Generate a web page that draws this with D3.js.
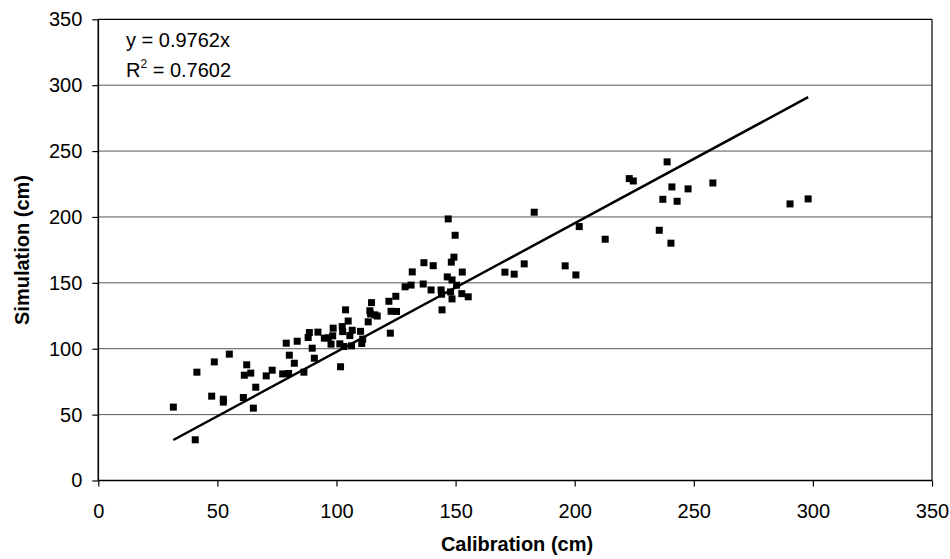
<!DOCTYPE html>
<html>
<head>
<meta charset="utf-8">
<script src="https://cdn.jsdelivr.net/npm/d3@7"></script>
<style>
  html, body { margin: 0; padding: 0; background: #ffffff; }
  svg { display: block; }
  text { font-family: "Liberation Sans", Arial, sans-serif; fill: #000; }
</style>
</head>
<body>
<svg id="chart" width="950" height="559"></svg>
<script>
// ---- Data ----
const calibration = [31.5,40.7,41.4,47.6,48.7,52.5,52.5,55.0,60.9,61.3,62.3,64.0,65.1,66.1,70.5,73.0,77.4,78.9,79.9,80.2,
  82.3,83.5,86.3,88.1,88.6,89.8,90.7,92.2,94.9,96.5,97.7,98.6,98.4,101.4,101.7,102.4,102.6,103.1,103.8,104.9,
  105.6,106.6,106.3,110.1,110.6,111.0,113.3,114.0,114.7,114.3,116.1,117.1,122.0,122.6,122.9,124.9,125.2,128.8,131.3,131.8,
  136.4,136.7,139.7,140.6,143.9,144.1,144.3,146.5,146.9,147.9,148.2,148.5,148.5,149.3,149.8,150.4,152.6,152.8,155.3,170.7,
  174.6,178.8,183.0,196.0,200.5,201.9,212.8,222.9,224.6,235.5,237.0,238.8,240.4,240.8,243.0,247.6,258.0,290.4,298.0];
const simulation = [55.7,30.9,82.2,64.0,90.0,61.7,59.5,95.9,63.0,79.9,87.8,81.5,54.9,70.8,79.4,83.7,80.9,104.2,81.2,95.1,
  89.0,105.7,82.2,108.5,112.3,100.4,92.8,112.6,108.0,108.3,103.5,115.6,109.8,103.7,86.3,116.8,113.0,101.7,129.5,121.0,
  110.0,114.0,102.2,113.2,104.0,107.3,120.4,128.8,135.0,126.4,125.7,124.8,136.0,111.8,128.4,139.8,128.3,147.0,148.3,158.3,
  149.1,165.3,144.6,163.0,144.6,141.4,129.5,154.5,198.5,143.1,165.7,152.2,137.8,169.5,186.1,148.2,141.8,158.2,139.4,158.1,
  156.6,164.4,203.6,162.9,156.0,192.7,183.1,229.1,227.3,189.9,213.4,241.8,180.1,222.8,211.9,221.3,225.8,209.9,213.7];
const trendX = [31.5, 298.0];
const trendY = [30.75, 290.91];
const xTicks = [0, 50, 100, 150, 200, 250, 300, 350];
const yTicks = [0, 50, 100, 150, 200, 250, 300, 350];
const xTitle = "Calibration (cm)";
const yTitle = "Simulation (cm)";
const eqLine = "y = 0.9762x";
const r2Value = "0.7602";

// ---- Layout ----
const svg = d3.select("#chart");
const L = 98.3, R = 932, T = 19.3, B = 480.5;
const x = d3.scaleLinear().domain([0, 350]).range([L, R]);
const y = d3.scaleLinear().domain([0, 350]).range([B, T]);

svg.append("rect").attr("width", 950).attr("height", 559).attr("fill", "#fff");

// gridlines
svg.append("g").selectAll("line").data(yTicks.filter(d => d > 0 && d < 350)).join("line")
  .attr("x1", L).attr("x2", R).attr("y1", d => y(d)).attr("y2", d => y(d))
  .attr("stroke", "#555").attr("stroke-width", 1);

// frame (top & right)
svg.append("line").attr("x1", L).attr("x2", R).attr("y1", y(350)).attr("y2", y(350)).attr("stroke", "#000").attr("stroke-width", 1.2);
svg.append("line").attr("x1", R).attr("x2", R).attr("y1", T).attr("y2", B).attr("stroke", "#000").attr("stroke-width", 1.2);

// axes
const gx = svg.append("g").attr("transform", `translate(0,${B})`)
  .call(d3.axisBottom(x).tickValues(xTicks).tickSize(6).tickPadding(17).tickFormat(d3.format("d")));
const gy = svg.append("g").attr("transform", `translate(${L},0)`)
  .call(d3.axisLeft(y).tickValues(yTicks).tickSize(6).tickPadding(10).tickFormat(d3.format("d")));
[gx, gy].forEach(g => {
  g.select(".domain").attr("stroke", "#000").attr("stroke-width", 1.6);
  g.selectAll(".tick line").attr("stroke", "#000").attr("stroke-width", 1.2);
  g.selectAll(".tick text").attr("font-size", 20).attr("font-family", "Liberation Sans, Arial, sans-serif").attr("fill", "#000");
});
gx.select(".domain").attr("d", `M${L},0H${R}`);
gy.select(".domain").attr("d", `M0,${B}V${T}`);

// trend line
svg.append("line")
  .attr("x1", x(trendX[0])).attr("y1", y(trendY[0]))
  .attr("x2", x(trendX[1])).attr("y2", y(trendY[1]))
  .attr("stroke", "#000").attr("stroke-width", 2.5);

// points
const pts = calibration.map((c, i) => ({ c, s: simulation[i] }));
const ms = 7;
svg.append("g").selectAll("rect").data(pts).join("rect")
  .attr("x", d => x(d.c) - ms / 2).attr("y", d => y(d.s) - ms / 2)
  .attr("width", ms).attr("height", ms).attr("fill", "#000");

// equation text
svg.append("text").attr("x", 126).attr("y", 47).attr("font-size", 20).text(eqLine);
const r2 = svg.append("text").attr("x", 126).attr("y", 77).attr("font-size", 20);
r2.append("tspan").text("R");
r2.append("tspan").attr("font-size", 12).attr("dy", -9).text("2");
r2.append("tspan").attr("dy", 9).text(" = " + r2Value);

// axis titles
svg.append("text").attr("x", 517).attr("y", 551).attr("text-anchor", "middle")
  .attr("font-size", 20).attr("font-weight", "bold").text(xTitle);
svg.append("text").attr("transform", "translate(29,250) rotate(-90)").attr("text-anchor", "middle")
  .attr("font-size", 20).attr("font-weight", "bold").text(yTitle);
</script>
</body>
</html>
